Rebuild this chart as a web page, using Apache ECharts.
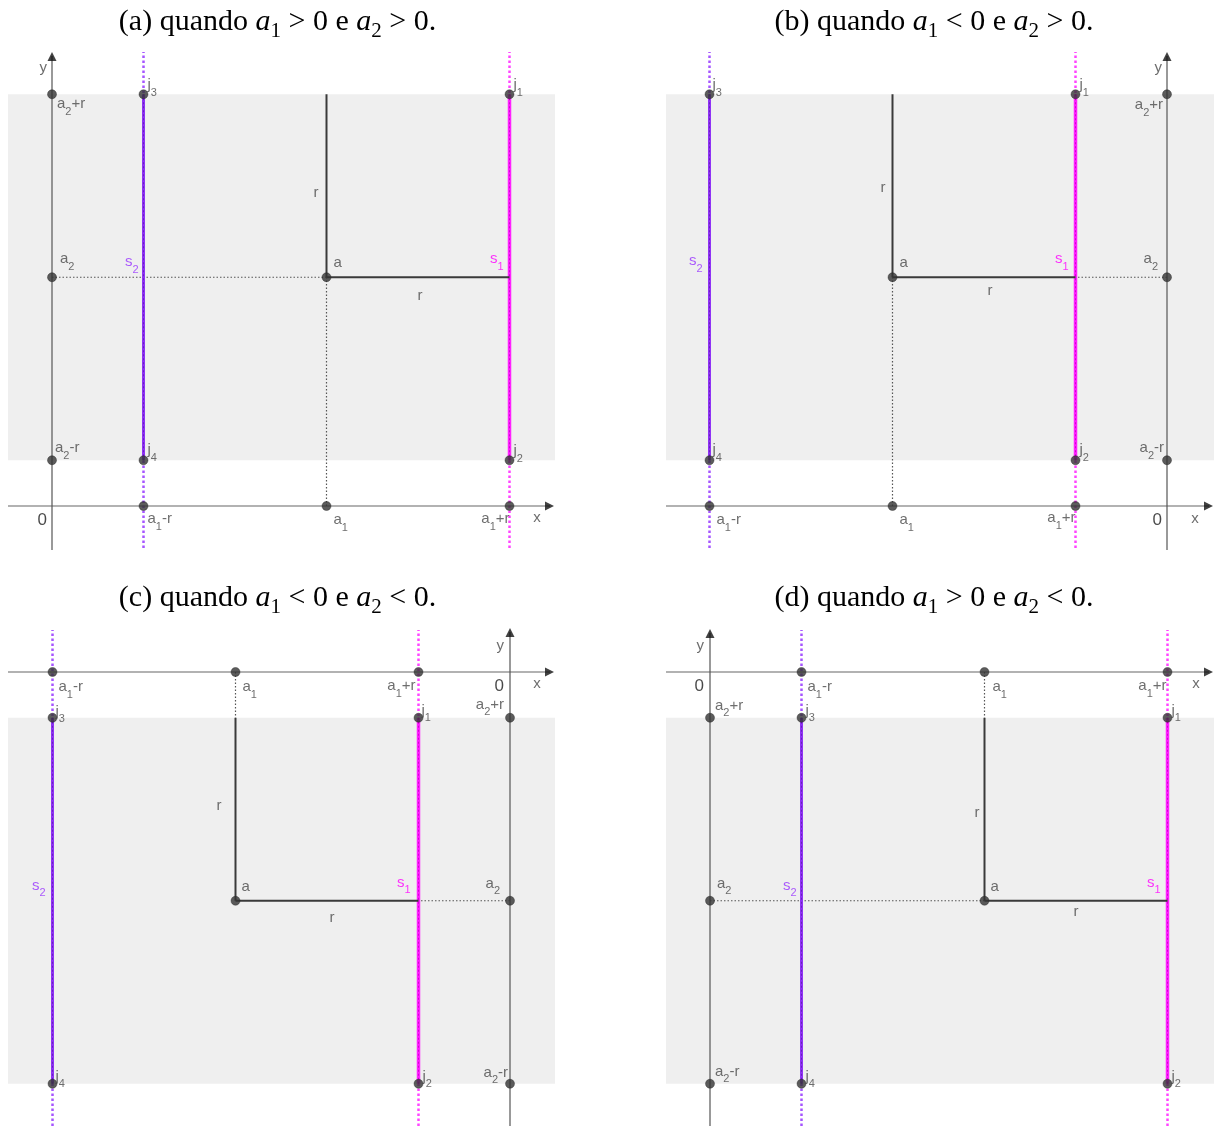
<!DOCTYPE html>
<html><head><meta charset="utf-8">
<script src="https://cdn.jsdelivr.net/npm/echarts@6/dist/echarts.min.js"></script>
<style>html,body{margin:0;padding:0;background:#fff}#c{width:1214px;height:1126px}</style>
</head><body><div id="c"></div>
<script>
// ---------------- data ----------------
const r = 2;
const panelIds = ['(a)', '(b)', '(c)', '(d)'];
const a1Values = [3, -3, -3, 3];
const a2Values = [2.5, 2.5, -2.5, -2.5];
const a1Signs = ['>', '<', '<', '>'];
const a2Signs = ['>', '>', '<', '<'];
const titleWords = ['quando', 'e'];
const axisNames = ['x', 'y', '0'];
const pointTexts = {
  'a2+r': '{m|a}{s|2}{m|+r}', 'a2': '{m|a}{s|2}', 'a2-r': '{m|a}{s|2}{m|-r}',
  'a1-r': '{m|a}{s|1}{m|-r}', 'a1': '{m|a}{s|1}', 'a1+r': '{m|a}{s|1}{m|+r}',
  'j1': '{m|j}{s|1}', 'j2': '{m|j}{s|2}', 'j3': '{m|j}{s|3}', 'j4': '{m|j}{s|4}',
  'a': '{m|a}', 'rv': '{m|r}', 'rh': '{m|r}',
  's1': '{pm|s}{ps|1}', 's2': '{vm|s}{vs|2}'
};

// ---------------- layout (pixels) ----------------
const S = 91.5; // px per unit
const LAYOUT = [
  {left: 8,   top: 46,  width: 547, height: 506, ox: 52,   oy: 506, xTip: 554,  yTip: 52,  yEnd: 550,  sTop: 52,  sBot: 548},
  {left: 666, top: 46,  width: 548, height: 506, ox: 1167, oy: 506, xTip: 1213, yTip: 52,  yEnd: 550,  sTop: 52,  sBot: 548},
  {left: 8,   top: 624, width: 547, height: 502, ox: 510,  oy: 672, xTip: 554,  yTip: 628, yEnd: 1126, sTop: 630, sBot: 1126},
  {left: 666, top: 624, width: 548, height: 502, ox: 710,  oy: 672, xTip: 1213, yTip: 629, yEnd: 1126, sTop: 630, sBot: 1126}
];
const TITLE_POS = [[277.5, 22], [934, 22], [277.5, 598], [934, 598]];
// label offsets [dx, dy, align]  (dy = centre of main glyphs)
const OFF = [
  {'a2+r':[5,10,'left'],'a2':[8,-18,'left'],'a2-r':[3,-12,'left'],'j1':[4,-9,'left'],'j2':[4,-9,'left'],'j3':[4,-9,'left'],'j4':[4,-10,'left'],
   'a':[7,-14,'left'],'s1':[-6,-18,'right'],'s2':[-5,-15,'right'],'rv':[-8,7,'right'],'rh':[2,19,'center'],
   'a1-r':[4,13,'left'],'a1':[7,14,'left'],'a1+r':[0,13,'right'],'x':[-17,12,'center'],'y':[-5,16,'right'],'0':[-5,14,'right']},
  {'a2+r':[-4,11,'right'],'a2':[-9,-18,'right'],'a2-r':[-3,-12,'right'],'j1':[4,-9,'left'],'j2':[4,-10,'left'],'j3':[3,-9,'left'],'j4':[3,-10,'left'],
   'a':[7,-14,'left'],'s1':[-7,-18,'right'],'s2':[-7,-16,'right'],'rv':[-7,2,'right'],'rh':[6,14,'center'],
   'a1-r':[7,14,'left'],'a1':[7,14,'left'],'a1+r':[0,12,'right'],'x':[-18,13,'center'],'y':[-5,16,'right'],'0':[-5,14,'right']},
  {'a2+r':[-6,-13,'right'],'a2':[-10,-17,'right'],'a2-r':[-2,-11,'right'],'j1':[3,-7,'left'],'j2':[4,-7,'left'],'j3':[3,-6,'left'],'j4':[3,-7,'left'],
   'a':[6,-14,'left'],'s1':[-8,-18,'right'],'s2':[-7,-15,'right'],'rv':[-14,-3,'right'],'rh':[5,17,'center'],
   'a1-r':[6,15,'left'],'a1':[7,15,'left'],'a1+r':[-3,14,'right'],'x':[-17,12,'center'],'y':[-6,18,'right'],'0':[-6,14,'right']},
  {'a2+r':[5,-12,'left'],'a2':[7,-17,'left'],'a2-r':[5,-12,'left'],'j1':[4,-7,'left'],'j2':[4,-7,'left'],'j3':[4,-7,'left'],'j4':[4,-7,'left'],
   'a':[6,-14,'left'],'s1':[-7,-18,'right'],'s2':[-5,-15,'right'],'rv':[-5,4,'right'],'rh':[0,11,'center'],
   'a1-r':[6,15,'left'],'a1':[8,15,'left'],'a1+r':[-1,14,'right'],'x':[-17,12,'center'],'y':[-6,17,'right'],'0':[-6,14,'right']}
];

const LABEL_FONT = 'Liberation Sans, Arial, sans-serif';
const GREY = '#4a4a4a';
const MAGENTA = '#ff00ff', PURPLE = '#9933ff';
const rich = {
  m:  {fontFamily: LABEL_FONT, fontSize: 15, lineHeight: 26, color: GREY},
  s:  {fontFamily: LABEL_FONT, fontSize: 11, lineHeight: 14, verticalAlign: 'bottom', color: GREY},
  pm: {fontFamily: LABEL_FONT, fontSize: 15, lineHeight: 26, color: MAGENTA},
  ps: {fontFamily: LABEL_FONT, fontSize: 11, lineHeight: 14, verticalAlign: 'bottom', color: MAGENTA},
  vm: {fontFamily: LABEL_FONT, fontSize: 15, lineHeight: 26, color: PURPLE},
  vs: {fontFamily: LABEL_FONT, fontSize: 11, lineHeight: 14, verticalAlign: 'bottom', color: PURPLE},
  o:  {fontFamily: LABEL_FONT, fontSize: 17, lineHeight: 26, color: '#1a1a1a'}
};
const TFONT = 'Liberation Serif, Times New Roman, serif';
const titleRich = {
  n: {fontFamily: TFONT, fontSize: 30, lineHeight: 40, color: '#000'},
  i: {fontFamily: TFONT, fontSize: 30, lineHeight: 40, fontStyle: 'italic', color: '#000'},
  t: {fontFamily: TFONT, fontSize: 21, lineHeight: 25, verticalAlign: 'bottom', color: '#000'}
};

const option = {animation: false, grid: [], xAxis: [], yAxis: [], series: [], graphic: []};

panelIds.forEach((pid, i) => {
  const L = LAYOUT[i];
  const A1 = a1Values[i], A2 = a2Values[i];
  const ux = px => (px - L.ox) / S;
  const uy = py => (L.oy - py) / S;
  const xMin = ux(L.left), xMax = ux(L.left + L.width);
  const yMax = uy(L.top), yMin = uy(L.top + L.height);
  option.grid.push({left: L.left, top: L.top, width: L.width, height: L.height, show: false});
  option.xAxis.push({type: 'value', gridIndex: i, min: xMin, max: xMax, show: false});
  option.yAxis.push({type: 'value', gridIndex: i, min: yMin, max: yMax, show: false});
  const ax = {xAxisIndex: i, yAxisIndex: i};
  const seg = (pts, style, z) => ({type: 'line', ...ax, data: pts, symbol: 'none', silent: true, clip: false, z: z, lineStyle: style});

  // grey band between a2-r and a2+r
  option.series.push({type: 'custom', ...ax, z: 0, silent: true, clip: false,
    data: [[xMin, A2 + r, xMax, A2 - r]],
    renderItem: (params, api) => {
      const p = api.coord([api.value(0), api.value(1)]);
      const q = api.coord([api.value(2), api.value(3)]);
      return {type: 'rect', shape: {x: Math.min(p[0], q[0]), y: Math.min(p[1], q[1]),
        width: Math.abs(q[0] - p[0]), height: Math.abs(q[1] - p[1])}, style: {fill: '#efefef'}};
    }});

  const sTop = uy(L.sTop), sBot = uy(L.sBot);
  // s1 (x = a1 + r) and s2 (x = a1 - r): dotted full lines + solid part inside band
  option.series.push(seg([[A1 + r, sBot], [A1 + r, sTop]], {color: '#ff44ff', width: 2.5, type: [2.5, 2.5]}, 2));
  option.series.push(seg([[A1 - r, sBot], [A1 - r, sTop]], {color: '#a555ff', width: 2.5, type: [2.5, 2.5]}, 2));
  option.series.push(seg([[A1 + r, A2 - r], [A1 + r, A2 + r]], {color: '#ff22ff', width: 3.5}, 3));
  option.series.push(seg([[A1 - r, A2 - r], [A1 - r, A2 + r]], {color: '#8f33f5', width: 3}, 3));
  option.series.push(seg([[A1 + r, A2 - r], [A1 + r, A2 + r]], {color: '#d400d4', width: 1, type: [2, 2]}, 3));
  option.series.push(seg([[A1 - r, A2 - r], [A1 - r, A2 + r]], {color: '#6a1fc0', width: 1, type: [2, 2]}, 3));

  // grey dotted guides
  const hEnd = A1 > 0 ? A1 : A1 + r;
  const vEnd = A2 > 0 ? A2 : A2 + r;
  option.series.push(seg([[0, A2], [hEnd, A2]], {color: '#555', width: 1.2, type: [1.5, 2]}, 2));
  option.series.push(seg([[A1, 0], [A1, vEnd]], {color: '#555', width: 1.2, type: [1.5, 2]}, 2));
  // radius segments
  option.series.push(seg([[A1, A2], [A1, A2 + r]], {color: '#3a3a3a', width: 2}, 4));
  option.series.push(seg([[A1, A2], [A1 + r, A2]], {color: '#3a3a3a', width: 2}, 4));

  // axes
  const xTipU = ux(L.xTip), yTipU = uy(L.yTip);
  option.series.push(seg([[xMin, 0], [ux(L.xTip - 4), 0]], {color: '#666', width: 1.2}, 5));
  option.series.push(seg([[0, uy(L.yEnd)], [0, uy(L.yTip + 4)]], {color: '#555', width: 1.2}, 5));
  option.series.push({type: 'scatter', ...ax, silent: true, clip: false, z: 6, symbol: 'triangle', symbolSize: [9, 9],
    itemStyle: {color: '#111'},
    data: [{value: [ux(L.xTip - 4.5), 0], symbolRotate: -90}, {value: [0, uy(L.yTip + 4.5)], symbolRotate: 0}]});

  // points
  const pts = [[0, A2 + r], [0, A2], [0, A2 - r], [A1 - r, 0], [A1, 0], [A1 + r, 0],
               [A1 + r, A2 + r], [A1 + r, A2 - r], [A1 - r, A2 + r], [A1 - r, A2 - r], [A1, A2]];
  option.series.push({type: 'scatter', ...ax, silent: true, clip: false, z: 8, symbol: 'circle', symbolSize: 9,
    itemStyle: {color: '#333', borderColor: '#222', borderWidth: 0.5}, data: pts});

  // labels
  const anchors = {
    'a2+r': [0, A2 + r], 'a2': [0, A2], 'a2-r': [0, A2 - r],
    'a1-r': [A1 - r, 0], 'a1': [A1, 0], 'a1+r': [A1 + r, 0],
    'j1': [A1 + r, A2 + r], 'j2': [A1 + r, A2 - r], 'j3': [A1 - r, A2 + r], 'j4': [A1 - r, A2 - r],
    'a': [A1, A2], 's1': [A1 + r, A2], 's2': [A1 - r, A2],
    'rv': [A1, A2 + r / 2], 'rh': [A1 + r / 2, A2],
    'x': [xTipU, 0], 'y': [0, yTipU], '0': [0, 0]
  };
  const texts = Object.assign({}, pointTexts, {'x': '{m|' + axisNames[0] + '}', 'y': '{m|' + axisNames[1] + '}', '0': '{o|' + axisNames[2] + '}'});
  const labelData = Object.keys(anchors).map(k => {
    const o = OFF[i][k];
    return {value: anchors[k], label: {show: true, formatter: texts[k], position: [o[0] + 0.5, o[1] + 0.5],
      align: o[2], verticalAlign: 'middle', rich: rich}};
  });
  option.series.push({type: 'scatter', ...ax, silent: true, clip: false, z: 9, symbol: 'circle', symbolSize: 1,
    itemStyle: {color: 'rgba(0,0,0,0)'}, data: labelData});

  // title
  option.graphic.push({type: 'text', x: TITLE_POS[i][0], y: TITLE_POS[i][1], silent: true,
    style: {text: '{n|' + pid + ' ' + titleWords[0] + ' }{i|a}{t|1}{n| ' + a1Signs[i] + ' 0 ' + titleWords[1] + ' }{i|a}{t|2}{n| ' + a2Signs[i] + ' 0.}',
      rich: titleRich, align: 'center', verticalAlign: 'middle'}});
});

const chart = echarts.init(document.getElementById('c'), null, {renderer: 'canvas'});
chart.setOption(option);
</script>
</body></html>
